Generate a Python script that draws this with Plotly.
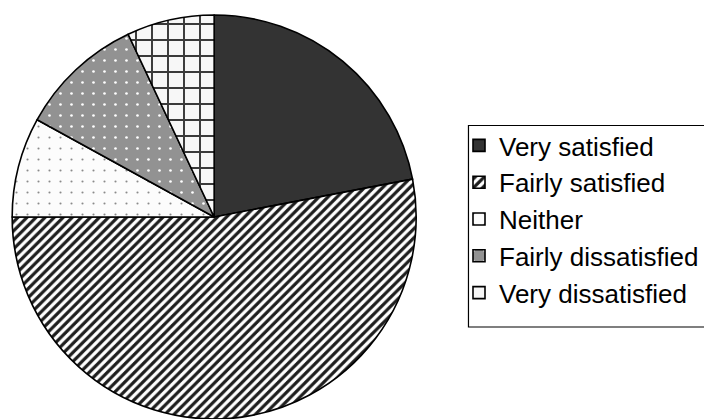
import plotly.graph_objects as go

# Survey responses, shares in percent (clockwise from 12 o'clock)
categories = ["Very satisfied", "Fairly satisfied", "Neither",
              "Fairly dissatisfied", "Very dissatisfied"]
shares = [22, 53, 8, 10, 7]

# Monochrome fill styles for each slice
bg_colors = ["#333333", "#ffffff", "#fcfcfc", "#929292", "#f7f7f7"]
pattern_shapes = ["", "/", ".", ".", "+"]
pattern_fg = ["#333333", "#1e1e1e", "#8a8a8a", "#ffffff", "#3a3a3a"]
pattern_sizes = [8, 6.4, 11, 11, 16]
pattern_solidity = [0.3, 0.5, 0.03, 0.045, 0.23]

W, H = 704, 419
MT = 15

fig = go.Figure(go.Pie(
    labels=categories,
    values=shares,
    sort=False,
    direction="clockwise",
    rotation=0,
    textinfo="none",
    hoverinfo="label+percent",
    marker=dict(
        colors=bg_colors,
        line=dict(color="#000000", width=1.6),
        pattern=dict(
            shape=pattern_shapes,
            fgcolor=pattern_fg,
            bgcolor=bg_colors,
            size=pattern_sizes,
            solidity=pattern_solidity,
            fillmode="replace",
        ),
    ),
    domain=dict(x=[0, 432 / W], y=[0, 1]),
))

def py(pix):
    """Convert a pixel row to paper y."""
    return (H - pix) / (H - MT)

# legend frame
fig.add_shape(type="rect", xref="paper", yref="paper",
              x0=472.5 / W, x1=1.01, y0=py(327), y1=py(125.5),
              line=dict(color="#000000", width=1.2), fillcolor="rgba(0,0,0,0)")

fig.update_layout(
    width=W, height=H,
    margin=dict(l=0, r=0, t=MT, b=0),
    paper_bgcolor="white",
    plot_bgcolor="white",
    font=dict(family="Liberation Sans, Arial, sans-serif", color="#000000"),
    showlegend=True,
    legend=dict(
        x=(503 - 40) / W, xanchor="left",
        y=py(122), yanchor="top",
        font=dict(size=26, family="Liberation Sans, Arial, sans-serif"),
        bgcolor="rgba(0,0,0,0)",
        borderwidth=0,
        traceorder="normal",
    ),
)

fig.write_html("out.html")
